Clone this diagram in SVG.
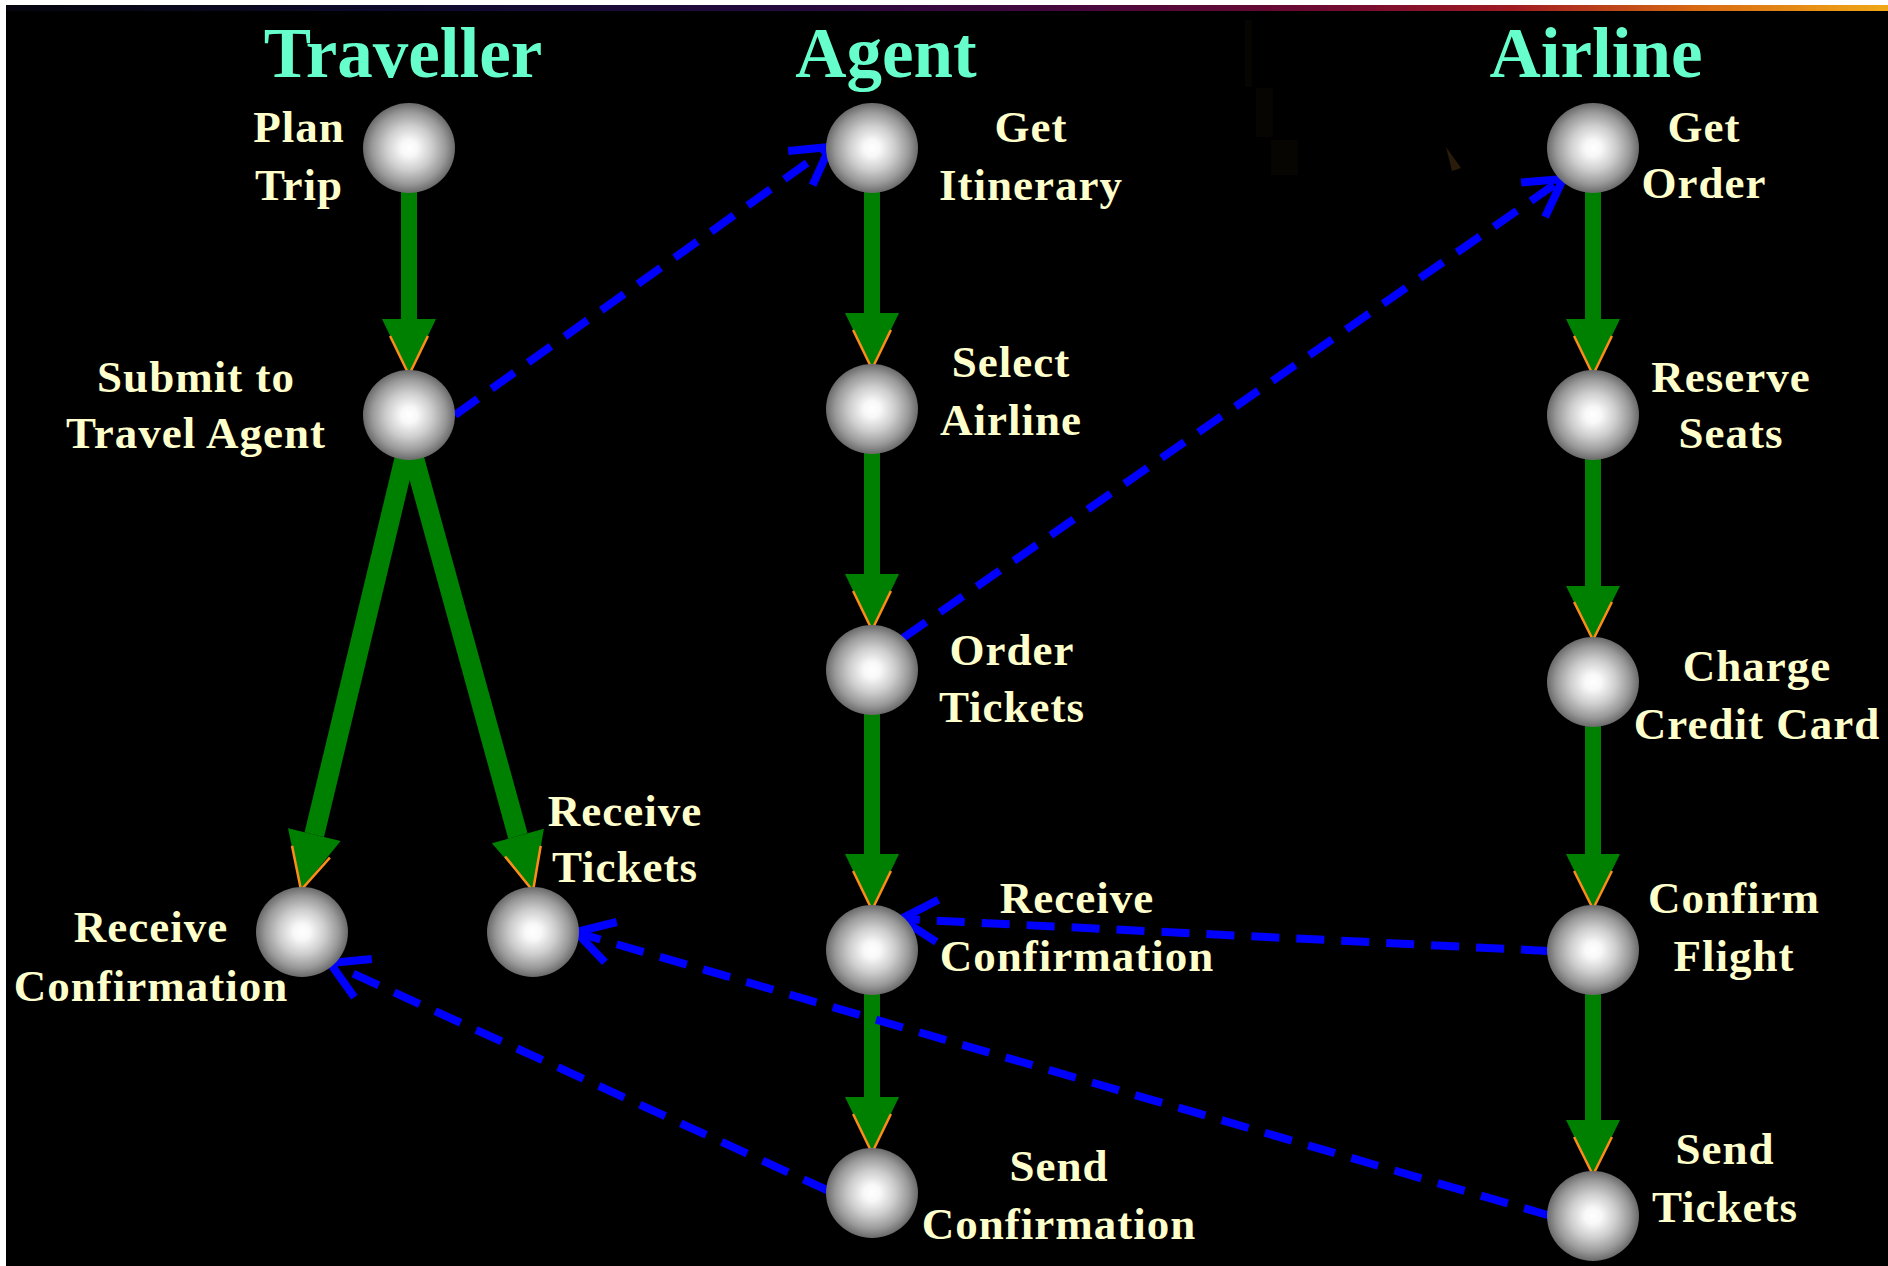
<svg xmlns="http://www.w3.org/2000/svg" width="1888" height="1266" viewBox="0 0 1888 1266">
  <defs>
    <radialGradient id="sphere" cx="0.5" cy="0.5" r="0.5">
      <stop offset="0" stop-color="#ffffff"/>
      <stop offset="0.18" stop-color="#f8f8f8"/>
      <stop offset="0.5" stop-color="#cdcdcd"/>
      <stop offset="0.8" stop-color="#999999"/>
      <stop offset="1" stop-color="#6a6a6a"/>
    </radialGradient>
    <linearGradient id="band" x1="0" y1="0" x2="1" y2="0">
      <stop offset="0" stop-color="#05050f"/>
      <stop offset="0.2" stop-color="#0c0a2c"/>
      <stop offset="0.4" stop-color="#22093c"/>
      <stop offset="0.55" stop-color="#42083e"/>
      <stop offset="0.7" stop-color="#6e0a32"/>
      <stop offset="0.8" stop-color="#a01a22"/>
      <stop offset="0.9" stop-color="#d86a12"/>
      <stop offset="1" stop-color="#f0a818"/>
    </linearGradient>
    <style>
      .lane { font-family: "Liberation Serif", "Times New Roman", serif; font-weight: bold; font-size: 71px; fill: #66FFCC; text-anchor: middle; }
      .lbl { font-family: "Liberation Serif", "Times New Roman", serif; font-weight: bold; font-size: 45px; fill: #FFFFCC; text-anchor: middle; letter-spacing: 1px; }
      .ball { fill: url(#sphere); }
      .flow { fill: none; stroke: #008000; stroke-width: 16; }
      .flow-d { fill: none; stroke: #008000; stroke-width: 20; }
      .head { fill: #008000; }
      .rim { fill: none; stroke: #FF8C1A; stroke-width: 2.5; stroke-linejoin: miter; }
      .msg { fill: none; stroke: #0000FF; stroke-width: 8; stroke-dasharray: 28 17; }
      .tip { fill: none; stroke: #0000FF; stroke-width: 8; stroke-linejoin: miter; }
    </style>
  </defs>

  <!-- backdrop -->
  <rect x="0" y="0" width="1888" height="1266" fill="#ffffff"/>
  <rect x="6" y="5" width="1882" height="1261" fill="#000000"/>
  <rect x="6" y="5" width="1882" height="6" fill="url(#band)"/>
  <g id="backdrop-marks" fill="#070502">
    <rect x="1245" y="20" width="7" height="67"/>
    <rect x="1256" y="88" width="17" height="49"/>
    <rect x="1271" y="140" width="27" height="35"/>
    <polygon points="1446,147 1461,168 1452,171" fill="#2a1c0a"/>
  </g>

  <!-- lane titles -->
  <g id="lanes">
    <text class="lane" x="403" y="77">Traveller</text>
    <text class="lane" x="886" y="77">Agent</text>
    <text class="lane" x="1596" y="77">Airline</text>
  </g>

  <!-- connectors -->
  <g id="connectors">
    <!-- control flow: Traveller -->
    <line class="flow" x1="409" y1="148" x2="409" y2="322"/>
    <polygon class="head" points="382,319 436,319 409,375"/>
    <polyline class="rim" points="390.1,336 409,375 427.9,336"/>

    <line class="flow-d" x1="409" y1="440" x2="314.3" y2="834.6"/>
    <polygon class="head" points="340.6,840.9 288.0,828.3 301,890"/>
    <polyline class="rim" points="292.0,845.7 301,890 329.9,857.6"/>

    <line class="flow-d" x1="409" y1="440" x2="517.9" y2="836.0"/>
    <polygon class="head" points="543.9,828.8 491.9,843.2 533,891"/>
    <polyline class="rim" points="505.1,856.5 533,891 540.7,845.9"/>

    <!-- control flow: Agent -->
    <line class="flow" x1="872" y1="148" x2="872" y2="316"/>
    <polygon class="head" points="845,313 899,313 872,369"/>
    <polyline class="rim" points="853.1,330 872,369 890.9,330"/>

    <line class="flow" x1="872" y1="409" x2="872" y2="577"/>
    <polygon class="head" points="845,574 899,574 872,630"/>
    <polyline class="rim" points="853.1,591 872,630 890.9,591"/>

    <line class="flow" x1="872" y1="670" x2="872" y2="857"/>
    <polygon class="head" points="845,854 899,854 872,910"/>
    <polyline class="rim" points="853.1,871 872,910 890.9,871"/>

    <line class="flow" x1="872" y1="950" x2="872" y2="1100"/>
    <polygon class="head" points="845,1097 899,1097 872,1153"/>
    <polyline class="rim" points="853.1,1114 872,1153 890.9,1114"/>

    <!-- control flow: Airline -->
    <line class="flow" x1="1593" y1="148" x2="1593" y2="322"/>
    <polygon class="head" points="1566,319 1620,319 1593,375"/>
    <polyline class="rim" points="1574.1,336 1593,375 1611.9,336"/>

    <line class="flow" x1="1593" y1="415" x2="1593" y2="589"/>
    <polygon class="head" points="1566,586 1620,586 1593,640"/>
    <polyline class="rim" points="1574.1,602 1593,640 1611.9,602"/>

    <line class="flow" x1="1593" y1="682" x2="1593" y2="857"/>
    <polygon class="head" points="1566,854 1620,854 1593,909"/>
    <polyline class="rim" points="1574.1,871 1593,909 1611.9,871"/>

    <line class="flow" x1="1593" y1="950" x2="1593" y2="1123"/>
    <polygon class="head" points="1566,1120 1620,1120 1593,1175"/>
    <polyline class="rim" points="1574.1,1137 1593,1175 1611.9,1137"/>

    <!-- messages between parties -->
    <line class="msg" x1="455" y1="415" x2="828" y2="148"/>
    <polyline class="tip" points="788.2,151.1 830,147 812.6,185.2"/>

    <line class="msg" x1="903" y1="638" x2="1561" y2="180"/>
    <polyline class="tip" points="1521.1,182.5 1563,179 1545.1,217.0"/>

    <line class="msg" x1="1549" y1="951" x2="903" y2="919"/>
    <polyline class="tip" points="938.4,899.8 901,919 936.3,941.8"/>

    <line class="msg" x1="1551" y1="1216" x2="578" y2="933"/>
    <polyline class="tip" points="616.8,922.0 576,932 605.0,962.3"/>

    <line class="msg" x1="829" y1="1191" x2="332" y2="964"/>
    <polyline class="tip" points="371.8,959.0 330,963 354.4,997.2"/>
  </g>

  <!-- Traveller steps -->
  <g id="plan-trip">
    <ellipse class="ball" cx="409" cy="148" rx="46" ry="45"/>
    <text class="lbl" x="299" y="142">Plan</text>
    <text class="lbl" x="299" y="200">Trip</text>
  </g>
  <g id="submit-to-agent">
    <ellipse class="ball" cx="409" cy="415" rx="46" ry="45"/>
    <text class="lbl" x="196" y="392">Submit to</text>
    <text class="lbl" x="196" y="448">Travel Agent</text>
  </g>
  <g id="traveller-receive-confirmation">
    <ellipse class="ball" cx="302" cy="932" rx="46" ry="45"/>
    <text class="lbl" x="151" y="942">Receive</text>
    <text class="lbl" x="151" y="1001">Confirmation</text>
  </g>
  <g id="receive-tickets">
    <ellipse class="ball" cx="533" cy="932" rx="46" ry="45"/>
    <text class="lbl" x="625" y="826">Receive</text>
    <text class="lbl" x="625" y="882">Tickets</text>
  </g>

  <!-- Agent steps -->
  <g id="get-itinerary">
    <ellipse class="ball" cx="872" cy="148" rx="46" ry="45"/>
    <text class="lbl" x="1031" y="142">Get</text>
    <text class="lbl" x="1031" y="200">Itinerary</text>
  </g>
  <g id="select-airline">
    <ellipse class="ball" cx="872" cy="409" rx="46" ry="45"/>
    <text class="lbl" x="1011" y="377">Select</text>
    <text class="lbl" x="1011" y="435">Airline</text>
  </g>
  <g id="order-tickets">
    <ellipse class="ball" cx="872" cy="670" rx="46" ry="45"/>
    <text class="lbl" x="1012" y="665">Order</text>
    <text class="lbl" x="1012" y="722">Tickets</text>
  </g>
  <g id="agent-receive-confirmation">
    <ellipse class="ball" cx="872" cy="950" rx="46" ry="45"/>
    <text class="lbl" x="1077" y="913">Receive</text>
    <text class="lbl" x="1077" y="971">Confirmation</text>
  </g>
  <g id="send-confirmation">
    <ellipse class="ball" cx="872" cy="1193" rx="46" ry="45"/>
    <text class="lbl" x="1059" y="1181">Send</text>
    <text class="lbl" x="1059" y="1239">Confirmation</text>
  </g>

  <!-- Airline steps -->
  <g id="get-order">
    <ellipse class="ball" cx="1593" cy="148" rx="46" ry="45"/>
    <text class="lbl" x="1704" y="142">Get</text>
    <text class="lbl" x="1704" y="198">Order</text>
  </g>
  <g id="reserve-seats">
    <ellipse class="ball" cx="1593" cy="415" rx="46" ry="45"/>
    <text class="lbl" x="1731" y="392">Reserve</text>
    <text class="lbl" x="1731" y="448">Seats</text>
  </g>
  <g id="charge-credit-card">
    <ellipse class="ball" cx="1593" cy="682" rx="46" ry="45"/>
    <text class="lbl" x="1757" y="681">Charge</text>
    <text class="lbl" x="1757" y="739">Credit Card</text>
  </g>
  <g id="confirm-flight">
    <ellipse class="ball" cx="1593" cy="950" rx="46" ry="45"/>
    <text class="lbl" x="1734" y="913">Confirm</text>
    <text class="lbl" x="1734" y="971">Flight</text>
  </g>
  <g id="send-tickets">
    <ellipse class="ball" cx="1593" cy="1216" rx="46" ry="45"/>
    <text class="lbl" x="1725" y="1164">Send</text>
    <text class="lbl" x="1725" y="1222">Tickets</text>
  </g>
</svg>
